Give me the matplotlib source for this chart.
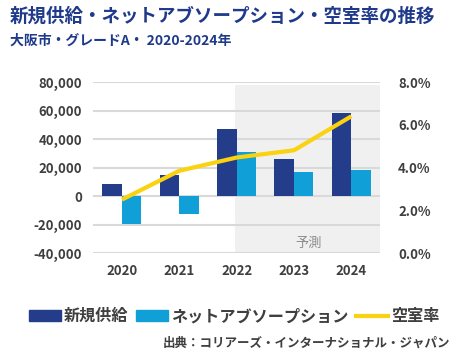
import numpy as np
import matplotlib
matplotlib.use('agg')
import matplotlib.pyplot as plt
from matplotlib.patches import Patch
from matplotlib.lines import Line2D

plt.rcParams['font.family'] = ['Noto Sans CJK JP', 'DejaVu Sans']

years = ['2020', '2021', '2022', '2023', '2024']
supply = [8200, 14700, 47000, 25700, 58500]
absorption = [-19500, -12500, 30700, 16600, 18500]
vacancy = [2.50, 3.85, 4.47, 4.81, 6.40]

navy = '#233D8B'
cyan = '#119FD8'
yellow = '#FAD20F'
txt = '#3F3F3F'
title_col = '#1F3A8A'

fig = plt.figure(figsize=(4.59, 3.6), dpi=100)
ax = fig.add_axes([0.203, 0.297, 0.625, 0.475])
ax2 = ax.twinx()

x = np.arange(len(years))
w = 0.34

# forecast shading
ax.fill_between([1.97, 4.5], -40000, 78000, color='#F0F0F0', zorder=0, lw=0)
ax.text(3.25, -33500, '予測', ha='center', va='center', fontsize=9.5, color='#8C8C8C')

ax.bar(x - w/2, supply, w, color=navy, zorder=3)
ax.bar(x + w/2, absorption, w, color=cyan, zorder=3)

ax.set_xlim(-0.5, 4.5)
ax.set_ylim(-40000, 80000)
ax.set_yticks(np.arange(-40000, 80001, 20000))
ax.set_yticklabels([f'{v:,}' for v in range(-40000, 80001, 20000)])
ax.grid(axis='y', color='#D9D9D9', lw=1.5, zorder=1)
ax.set_axisbelow(True)
ax.set_xticks(x)
ax.set_xticklabels(years)

ax2.plot(x, vacancy, color=yellow, lw=3, solid_capstyle='butt', zorder=5)
ax2.set_ylim(0, 8)
ax2.set_yticks([0, 2, 4, 6, 8])
ax2.set_yticklabels([f'{v:.1f}%' for v in [0, 2, 4, 6, 8]])
ax.set_zorder(1)
ax2.set_zorder(2)

for a in (ax, ax2):
    for s in a.spines.values():
        s.set_visible(False)
    a.tick_params(length=0, labelsize=9.5, labelcolor=txt)
    for lab in a.get_xticklabels() + a.get_yticklabels():
        lab.set_fontweight('bold')
ax.tick_params(axis='y', pad=8)
ax.tick_params(axis='x', pad=8)
ax2.tick_params(axis='y', pad=13)

fig.text(0.022, 0.955, '新規供給・ネットアブソープション・空室率の推移', fontsize=13.3,
         fontweight='bold', color=title_col, va='center', ha='left')
fig.text(0.022, 0.887, '大阪市・グレードA・ 2020-2024年', fontsize=10,
         fontweight='bold', color=title_col, va='center', ha='left')

handles = [Patch(color=navy), Patch(color=cyan), Line2D([0], [0], color=yellow, lw=3)]
labels = ['新規供給', 'ネットアブソープション', '空室率']
leg = fig.legend(handles, labels, loc='center', bbox_to_anchor=(0.51, 0.122), ncol=3,
                 frameon=False, handlelength=2.0, handleheight=0.6, handletextpad=0.2,
                 columnspacing=0.45, prop={'size': 11.6, 'weight': 'bold'})
for t in leg.get_texts():
    t.set_color(txt)

fig.text(0.98, 0.047, '出典：コリアーズ・インターナショナル・ジャパン', fontsize=9,
         fontweight='bold', color=txt, ha='right', va='center')

fig.savefig('out.png', dpi=100)
